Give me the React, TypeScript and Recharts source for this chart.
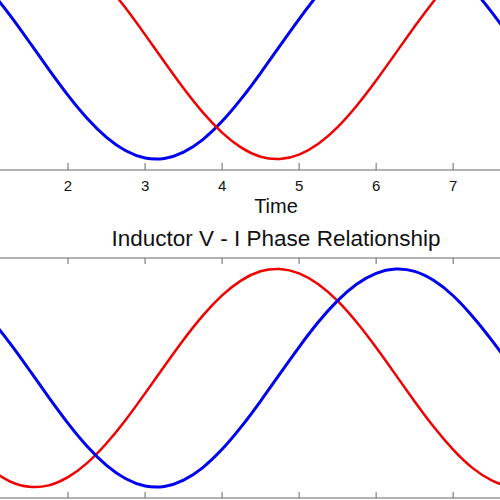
import { Label, Line, LineChart, XAxis, YAxis } from 'recharts'

// time samples (s) covering the visible window
const time = [
  1.0, 1.25, 1.5, 1.75, 2.0, 2.25, 2.5, 2.75, 3.0, 3.25, 3.5, 3.75, 4.0, 4.25,
  4.5, 4.75, 5.0, 5.25, 5.5, 5.75, 6.0, 6.25, 6.5, 6.75, 7.0, 7.25, 7.5, 7.75,
  8.0,
]

// upper panel: blue and red traces
const topBlue = [
  0.54, 0.315, 0.071, -0.178, -0.416, -0.628, -0.801, -0.924, -0.99, -0.994,
  -0.936, -0.821, -0.654, -0.446, -0.211, 0.038, 0.284, 0.513, 0.709, 0.861,
  0.96, 0.999, 0.977, 0.893, 0.754, 0.566, 0.347, 0.108, -0.146,
]
const topRed = [
  0.841, 0.949, 0.997, 0.984, 0.909, 0.778, 0.598, 0.382, 0.141, -0.108,
  -0.351, -0.572, -0.757, -0.895, -0.978, -0.999, -0.959, -0.859, -0.706,
  -0.508, -0.279, -0.033, 0.215, 0.45, 0.657, 0.824, 0.938, 0.994, 0.989,
]

// lower panel: voltage (red) leads current (blue)
const bottomBlue = [
  0.54, 0.315, 0.071, -0.178, -0.416, -0.628, -0.801, -0.924, -0.99, -0.994,
  -0.936, -0.821, -0.654, -0.446, -0.211, 0.038, 0.284, 0.513, 0.709, 0.861,
  0.96, 0.999, 0.977, 0.893, 0.754, 0.566, 0.347, 0.108, -0.146,
]
const bottomRed = [
  -0.841, -0.949, -0.997, -0.984, -0.909, -0.778, -0.598, -0.382, -0.141,
  0.108, 0.351, 0.572, 0.757, 0.895, 0.978, 0.999, 0.959, 0.859, 0.706, 0.508,
  0.279, 0.033, -0.215, -0.45, -0.657, -0.824, -0.938, -0.994, -0.989,
]

const xTicks = [2, 3, 4, 5, 6, 7]

const topData = time.map((t, i) => ({ t, blue: topBlue[i], red: topRed[i] }))
const bottomData = time.map((t, i) => ({
  t,
  blue: bottomBlue[i],
  red: bottomRed[i],
}))

const FONT = '"Liberation Sans", Arial, sans-serif'
const AXIS = '#666'
const BLUE = '#0000f0'
const RED = '#f00000'

// plot area: 77px per unit, t=0 sits 86px left of the page
const PLOT_W = 724
const PLOT_H = 240
const X_DOMAIN: [number, number] = [0, 9.4]
const Y_DOMAIN: [number, number] = [-1.1, 1.1]

function TimeTick({ x, y, payload }: any) {
  return (
    <text
      x={x}
      y={y + 11}
      textAnchor="middle"
      fill="#111"
      fontSize={15}
      fontFamily={FONT}
    >
      {payload.value}
    </text>
  )
}

// tick marks only, no labels
function NoLabel() {
  return <g />
}

export default function App() {
  return (
    <div
      style={{
        position: 'absolute',
        left: 0,
        top: 0,
        width: 500,
        height: 500,
        overflow: 'hidden',
        background: '#fff',
        fontFamily: FONT,
      }}
    >
      {/* upper subplot, its top edge is cut off */}
      <div style={{ position: 'absolute', left: -86, top: -70 }}>
        <LineChart
          width={PLOT_W}
          height={PLOT_H + 60}
          data={topData}
          margin={{ top: 0, right: 0, bottom: 0, left: 0 }}
        >
          <XAxis
            dataKey="t"
            type="number"
            domain={X_DOMAIN}
            ticks={xTicks}
            allowDataOverflow
            height={60}
            stroke={AXIS}
            tickSize={-7}
            tickMargin={17}
            tick={TimeTick}
          >
            <Label
              value="Time"
              position="insideBottom"
              offset={17}
              fill="#111"
              fontSize={20}
              fontFamily={FONT}
            />
          </XAxis>
          <YAxis hide domain={Y_DOMAIN} allowDataOverflow />
          <Line
            dataKey="blue"
            type="natural"
            stroke={BLUE}
            strokeWidth={3}
            dot={false}
            isAnimationActive={false}
          />
          <Line
            dataKey="red"
            type="natural"
            stroke={RED}
            strokeWidth={2.5}
            dot={false}
            isAnimationActive={false}
          />
        </LineChart>
      </div>

      {/* lower subplot with title */}
      <div style={{ position: 'absolute', left: -86, top: 218 }}>
        <LineChart
          width={PLOT_W}
          height={40 + PLOT_H + 30}
          data={bottomData}
          margin={{ top: 0, right: 0, bottom: 0, left: 0 }}
        >
          <XAxis
            xAxisId="top"
            orientation="top"
            dataKey="t"
            type="number"
            domain={X_DOMAIN}
            ticks={xTicks}
            allowDataOverflow
            height={40}
            stroke={AXIS}
            tickSize={-6}
            tick={NoLabel}
          >
            <Label
              value="Inductor V - I Phase Relationship"
              position="insideTop"
              offset={12}
              fill="#111"
              fontSize={22.5}
              fontFamily={FONT}
            />
          </XAxis>
          <XAxis
            xAxisId="bottom"
            dataKey="t"
            type="number"
            domain={X_DOMAIN}
            ticks={xTicks}
            allowDataOverflow
            height={30}
            stroke={AXIS}
            tickSize={-6}
            tick={NoLabel}
          />
          <YAxis hide domain={Y_DOMAIN} allowDataOverflow />
          <Line
            xAxisId="bottom"
            dataKey="red"
            type="natural"
            stroke={RED}
            strokeWidth={2.5}
            dot={false}
            isAnimationActive={false}
          />
          <Line
            xAxisId="bottom"
            dataKey="blue"
            type="natural"
            stroke={BLUE}
            strokeWidth={3}
            dot={false}
            isAnimationActive={false}
          />
        </LineChart>
      </div>
    </div>
  )
}
